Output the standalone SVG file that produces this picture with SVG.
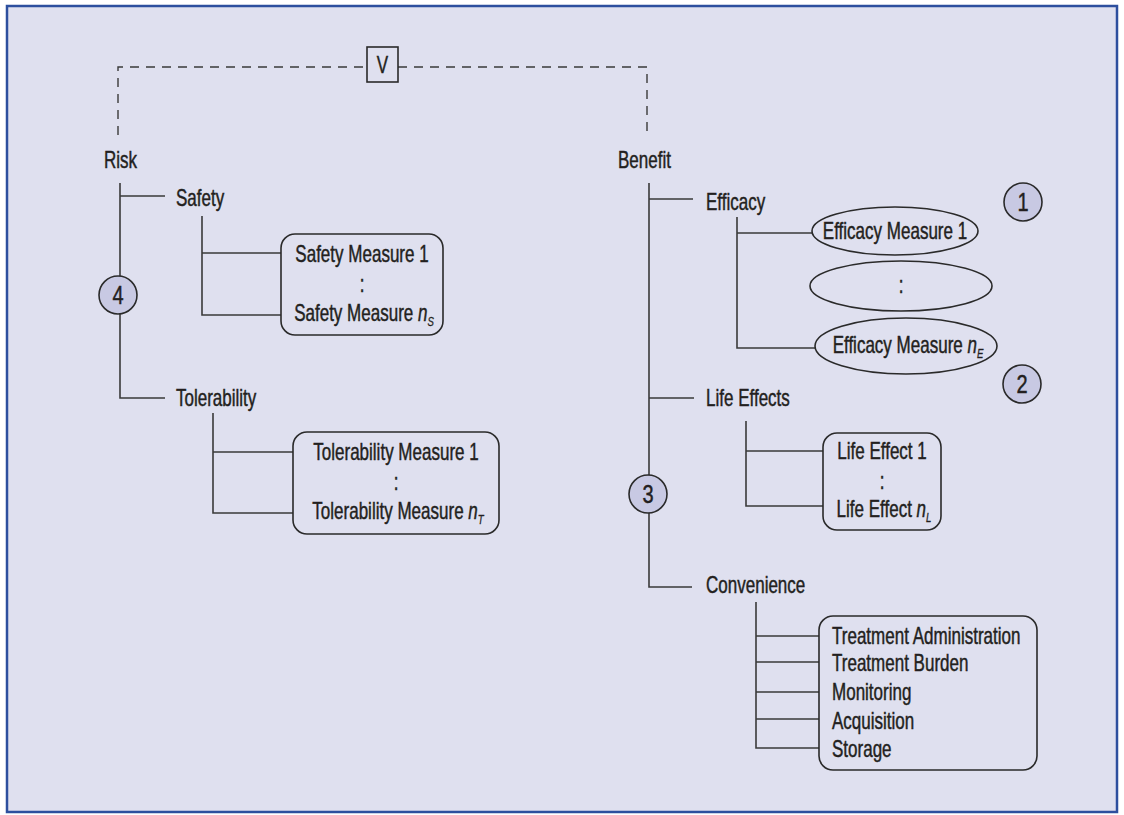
<svg xmlns="http://www.w3.org/2000/svg" width="1124" height="815" viewBox="0 0 1124 815">
<style>
text{font-family:"Liberation Sans",Arial,sans-serif;font-size:23px;fill:#231f20;stroke:#231f20;stroke-width:0.45}
.c{text-anchor:middle}
.ln{fill:none;stroke:#3a3a3a;stroke-width:1.6}
.dash{fill:none;stroke:#3a3a3a;stroke-width:1.4;stroke-dasharray:9 7}
.box{fill:#dfe0ef;stroke:#2a2a2a;stroke-width:1.6}
.num{fill:#c8c9e3;stroke:#2a2a2a;stroke-width:1.6}
.it{font-style:italic}
.sub{font-style:italic;font-size:13px;stroke-width:0.3}
</style>
<rect x="0" y="0" width="1124" height="815" fill="#ffffff"/>
<rect x="7" y="6" width="1110" height="806" fill="#dfe0ef" stroke="#2d4f9e" stroke-width="2.5"/>

<g id="connectors">
<path class="dash" d="M118,135 V67 H367"/>
<path class="dash" d="M398,67 H647 V132"/>
<path class="ln" d="M120,183 V276 M120,314 V398 H165 M120,196 H165"/>
<path class="ln" d="M202,216 V315 H281 M202,253 H281"/>
<path class="ln" d="M213,413 V513 H293 M213,452 H293"/>
<path class="ln" d="M649,183 V475 M649,513 V587 H692 M649,199 H693 M649,398 H694"/>
<path class="ln" d="M737,217 V348 H815 M737,233 H812"/>
<path class="ln" d="M746,421 V506 H823 M746,451 H823"/>
<path class="ln" d="M756,602 V748 H819 M756,636 H819 M756,662 H819 M756,692 H819 M756,719 H819"/>
</g>

<g id="v"><rect x="367" y="47" width="31" height="35" fill="#dfe0ef" stroke="#2a2a2a" stroke-width="1.6"/><text class="c" transform="translate(382.5,73) scale(0.74,1)">V</text></g>
<g id="risk"><text transform="translate(104,168) scale(0.74,1)">Risk</text></g>
<g id="benefit"><text transform="translate(618,168) scale(0.74,1)">Benefit</text></g>
<g id="safety"><text transform="translate(176,206) scale(0.74,1)">Safety</text></g>
<g id="tolerability"><text transform="translate(176,406) scale(0.74,1)">Tolerability</text></g>
<g id="efficacy"><text transform="translate(706,210) scale(0.74,1)">Efficacy</text></g>
<g id="lifeeffects"><text transform="translate(706,406) scale(0.74,1)">Life Effects</text></g>
<g id="convenience"><text transform="translate(706,593) scale(0.74,1)">Convenience</text></g>

<g id="n4"><circle class="num" cx="118" cy="295" r="19"/><text class="c" transform="translate(118,304) scale(0.8,1)" style="font-size:25px">4</text></g>
<g id="n3"><circle class="num" cx="648" cy="494" r="19"/><text class="c" transform="translate(648,503) scale(0.8,1)" style="font-size:25px">3</text></g>
<g id="n1"><circle class="num" cx="1023" cy="202" r="19"/><text class="c" transform="translate(1023,211) scale(0.8,1)" style="font-size:25px">1</text></g>
<g id="n2"><circle class="num" cx="1022" cy="384" r="19"/><text class="c" transform="translate(1022,393) scale(0.8,1)" style="font-size:25px">2</text></g>

<g id="safetybox"><rect class="box" x="281" y="234" width="162" height="101" rx="14"/>
<text class="c" transform="translate(362,262) scale(0.74,1)">Safety Measure 1</text>
<text class="c" transform="translate(362,292) scale(0.74,1)">:</text>
<text class="c" transform="translate(364,321) scale(0.74,1)">Safety Measure <tspan class="it">n</tspan><tspan class="sub" dy="5">S</tspan></text></g>

<g id="tolbox"><rect class="box" x="293" y="432" width="206" height="102" rx="14"/>
<text class="c" transform="translate(396,460) scale(0.74,1)">Tolerability Measure 1</text>
<text class="c" transform="translate(396,490) scale(0.74,1)">:</text>
<text class="c" transform="translate(398,519) scale(0.74,1)">Tolerability Measure <tspan class="it">n</tspan><tspan class="sub" dy="5">T</tspan></text></g>

<g id="eff1"><ellipse class="box" cx="895" cy="231" rx="83" ry="24"/><text class="c" transform="translate(895,239) scale(0.74,1)">Efficacy Measure 1</text></g>
<g id="eff2"><ellipse class="box" cx="901" cy="286" rx="91" ry="25"/><text class="c" transform="translate(901,293) scale(0.74,1)">:</text></g>
<g id="eff3"><ellipse class="box" cx="906" cy="346" rx="91" ry="28"/><text class="c" transform="translate(908,353) scale(0.74,1)">Efficacy Measure <tspan class="it">n</tspan><tspan class="sub" dy="5">E</tspan></text></g>

<g id="lifebox"><rect class="box" x="823" y="433" width="118" height="97" rx="14"/>
<text class="c" transform="translate(882,459) scale(0.74,1)">Life Effect 1</text>
<text class="c" transform="translate(882,489) scale(0.74,1)">:</text>
<text class="c" transform="translate(884,517) scale(0.74,1)">Life Effect <tspan class="it">n</tspan><tspan class="sub" dy="5">L</tspan></text></g>

<g id="convbox"><rect class="box" x="819" y="616" width="218" height="154" rx="14"/>
<text transform="translate(832,644) scale(0.74,1)">Treatment Administration</text>
<text transform="translate(832,671) scale(0.74,1)">Treatment Burden</text>
<text transform="translate(832,700) scale(0.74,1)">Monitoring</text>
<text transform="translate(832,729) scale(0.74,1)">Acquisition</text>
<text transform="translate(832,757) scale(0.74,1)">Storage</text></g>
</svg>
